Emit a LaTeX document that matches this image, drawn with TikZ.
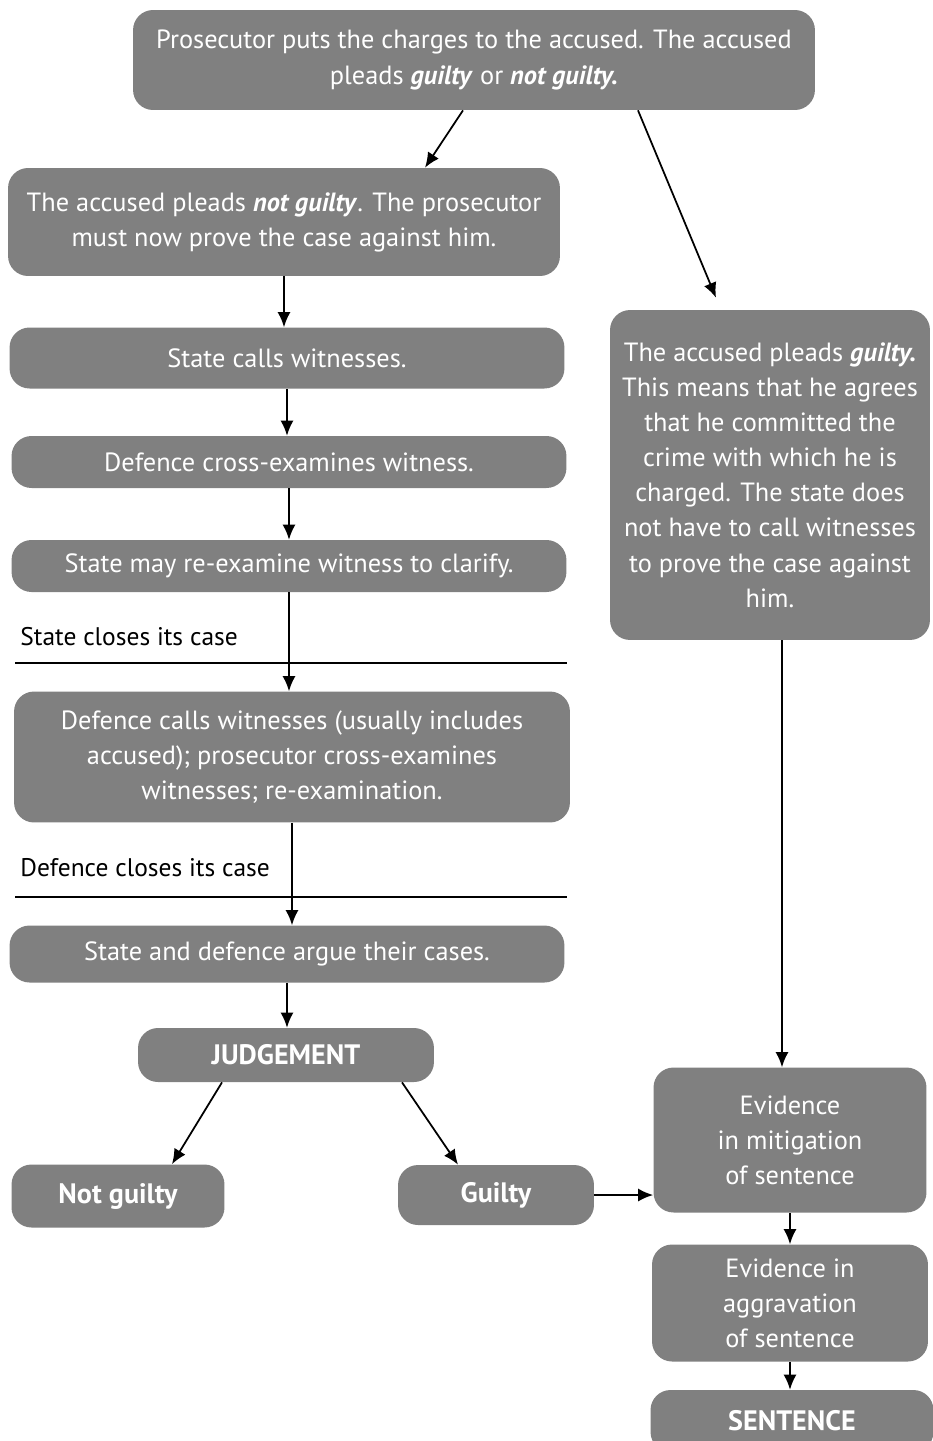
\documentclass[tikz,border=0pt]{standalone}
\usepackage{fontspec}
\setmainfont{PT Sans}
\usetikzlibrary{arrows.meta,calc}
\definecolor{boxgrey}{RGB}{128,128,128}

\begin{document}
\begin{tikzpicture}[x=0.02cm,y=-0.02cm,
	stage/.style={fill=boxgrey,text=white,rounded corners=0.4cm,align=center,inner sep=0pt,font=\fontsize{15}{20}\selectfont},
	verdict/.style={stage,font=\fontsize{16}{20}\selectfont\bfseries},
	flow/.style={-{Latex[length=0.3cm,width=0.26cm]},line width=1pt},
	stagenote/.style={anchor=base west,inner sep=0pt,font=\fontsize{14.5}{20}\selectfont}]
	\useasboundingbox (0,0) rectangle (933,1441);
	% left column
	\node[stage,minimum width=13.64cm,minimum height=2cm] (charges) at (474,60) {Prosecutor puts the charges to the accused. The accused\\ pleads \textbf{\textit{guilty}} or \textbf{\textit{not guilty.}}};
	\node[stage,minimum width=11.04cm,minimum height=2.16cm] (denies) at (284,222) {The accused pleads \textbf{\textit{not guilty}}. The prosecutor\\ must now prove the case against him.};
	\node[stage,minimum width=11.1cm,minimum height=1.22cm] (calls) at (287,358) {State calls witnesses.};
	\node[stage,minimum width=11.1cm,minimum height=1.04cm] (cross) at (289,462) {Defence cross-examines witness.};
	\node[stage,minimum width=11.1cm,minimum height=1.04cm] (reexam) at (289,566) {State may re-examine witness to clarify.};
	\node[stage,minimum width=11.12cm,minimum height=2.62cm] (defence) at (292,757) {Defence calls witnesses (usually includes\\ accused); prosecutor cross-examines\\ witnesses; re-examination.};
	\node[stage,minimum width=11.1cm,minimum height=1.14cm] (argue) at (287,954) {State and defence argue their cases.};
	\node[verdict,minimum width=5.92cm,minimum height=1.08cm] (judgement) at (286,1055) {JUDGEMENT};
	\node[verdict,minimum width=4.26cm,minimum height=1.26cm] (notguilty) at (118,1196) {Not guilty};
	\node[verdict,minimum width=3.92cm,minimum height=1.2cm] (guilty) at (496,1195) {Guilty};
	% right column
	\node[stage,minimum width=6.4cm,minimum height=6.6cm] (admits) at (770,475) {The accused pleads \textbf{\textit{guilty.}}\\ This means that he agrees\\ that he committed the\\ crime with which he is\\ charged. The state does\\ not have to call witnesses\\ to prove the case against\\ him.};
	\node[stage,minimum width=5.46cm,minimum height=2.9cm] (mitigation) at (790,1140) {Evidence\\ in mitigation\\ of sentence};
	\node[stage,minimum width=5.52cm,minimum height=2.34cm] (aggravation) at (790,1303) {Evidence in\\ aggravation\\ of sentence};
	\node[verdict,minimum width=5.66cm,minimum height=1.24cm] (sentence) at (792,1421) {SENTENCE};
	\coordinate (admitsfoot) at ($(admits.south)+(12,0)$);
	% closing of the cases
	\node[stagenote] (stateclosed) at (20,645) {State closes its case};
	\node[stagenote] (defenceclosed) at (20,876) {Defence closes its case};
	\draw[line width=0.8pt] (15,663) -- (567,663);
	\draw[line width=0.8pt] (15,897) -- (567,897);
	% arrows
	\draw[flow] ($(charges.south)+(-11,0)$) -- ($(denies.north)+(141,0)$);
	\draw[flow] ($(charges.south)+(164,0)$) -- ($(admits.north)+(-54,-12)$);
	\foreach \a/\b in {denies/calls,calls/cross,cross/reexam,reexam/defence,defence/argue,argue/judgement} \draw[flow] (\a.south) -- (\a.south |- \b.north);
	\draw[flow] ($(judgement.south)+(-64,0)$) -- ($(notguilty.north)+(54,0)$);
	\draw[flow] ($(judgement.south)+(116,0)$) -- ($(guilty.north)+(-38,0)$);
	\draw[flow] (guilty.east) -- (guilty.east -| mitigation.west);
	\draw[flow] (admitsfoot) -- (admitsfoot |- mitigation.north);
	\draw[flow] (mitigation.south) -- (mitigation.south |- aggravation.north);
	\draw[flow] (aggravation.south) -- (aggravation.south |- sentence.north);
\end{tikzpicture}
\end{document}
